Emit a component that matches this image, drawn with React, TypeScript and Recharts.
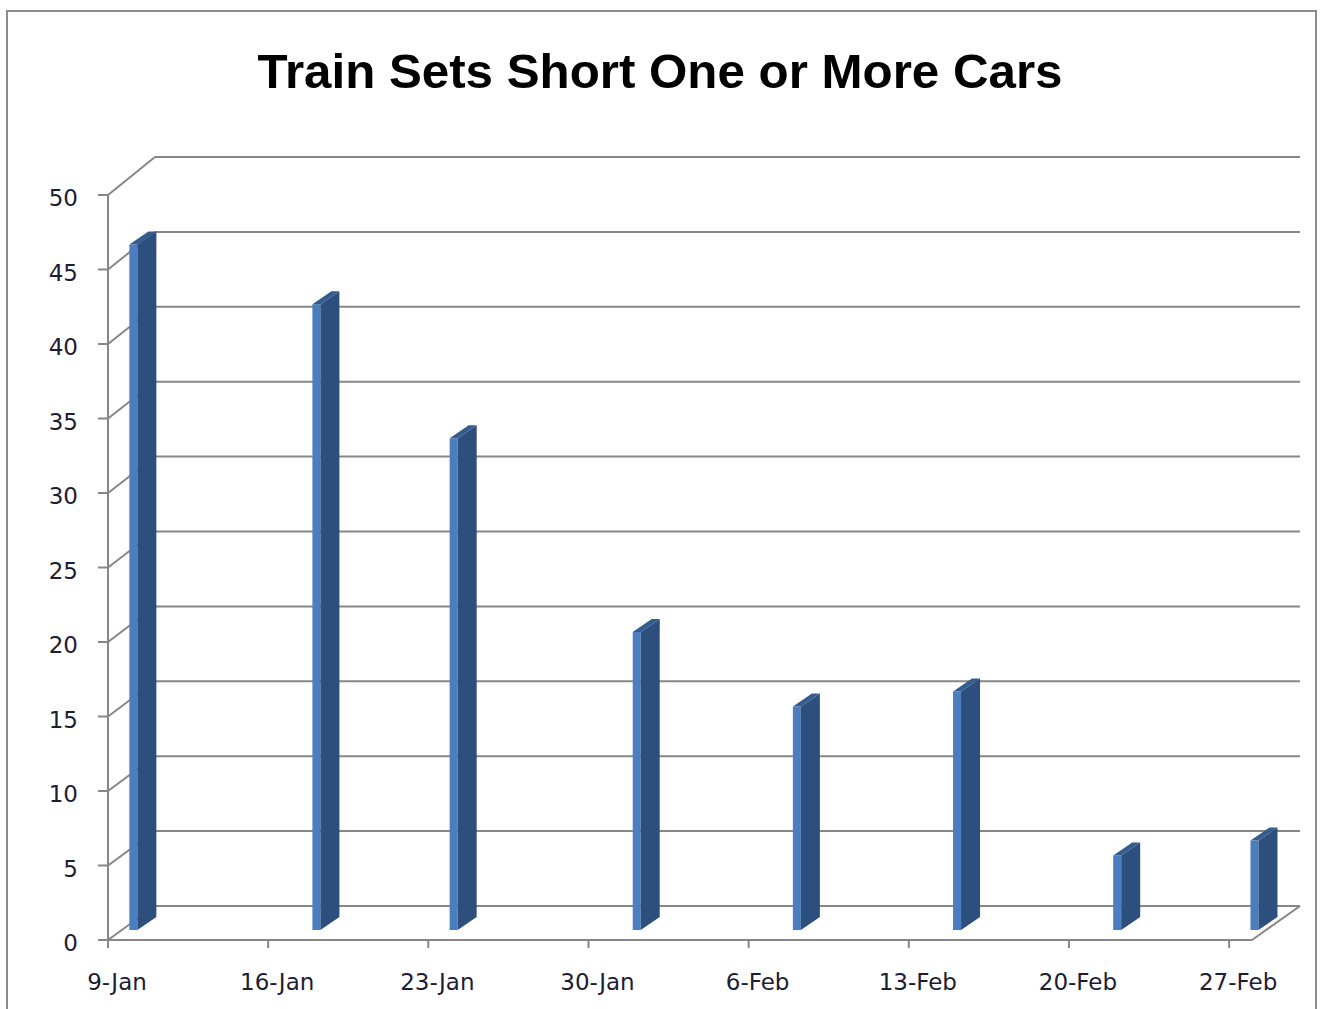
import { BarChart, Bar, XAxis, YAxis, CartesianGrid } from 'recharts';

// weekly axis labels and the dates the counts were taken
const tickLabels = ['9-Jan', '16-Jan', '23-Jan', '30-Jan', '6-Feb', '13-Feb', '20-Feb', '27-Feb'];
const barDates = ['9-Jan', '17-Jan', '23-Jan', '31-Jan', '7-Feb', '14-Feb', '21-Feb', '27-Feb'];
const barValues = [46, 42, 33, 20, 15, 16, 5, 6];
const yTicks = [0, 5, 10, 15, 20, 25, 30, 35, 40, 45, 50];

const MONTH_START: Record<string, number> = { Jan: 0, Feb: 31, Mar: 59 };
const dayOfYear = (label: string) => {
  const [d, m] = label.split('-');
  return MONTH_START[m] + Number(d);
};
const dayOffset = (label: string) => dayOfYear(label) - dayOfYear(tickLabels[0]);

const data = barDates.map((date, i) => ({ day: dayOffset(date), value: barValues[i] }));
const xTicks = tickLabels.map(dayOffset);

const W = 1320;
const H = 1009;
const M = { top: 195, right: 68, bottom: 0, left: 0 };
const X_AXIS_H = 69;
const Y_AXIS_W = 108;
const PLOT_BOTTOM = H - M.bottom - X_AXIS_H;
const PLOT_H = PLOT_BOTTOM - M.top;

// depth of the 3D box (front plane -> back wall)
const DEPTH_X = 47;
const depthY = (y: number) => 34 + ((PLOT_BOTTOM - y) / PLOT_H) * 4;

const GRID = '#878787';
const LIGHT = '#4A7EBF';
const DARK = '#2D4F7D';
const TOP = '#355C8F';
const LABEL = '#1d1d33';

function GridLine(p: any) {
  const dy = depthY(p.y1);
  const bx1 = p.x1 + DEPTH_X;
  const bx2 = p.x2 + DEPTH_X + 1;
  const by = p.y1 - dy;
  const isFloor = Math.abs(p.y1 - PLOT_BOTTOM) < 1;
  return (
    <g key={p.key}>
      <line x1={p.x1} y1={p.y1} x2={bx1} y2={by} stroke={GRID} strokeWidth={2} />
      <line x1={bx1} y1={by} x2={bx2} y2={by} stroke={GRID} strokeWidth={2} />
      {isFloor && <line x1={p.x2} y1={p.y1} x2={bx2} y2={by} stroke={GRID} strokeWidth={2} />}
    </g>
  );
}

function Column3D(props: any) {
  const { x, y, height } = props;
  if (height == null || height <= 0) return null;
  const w = 8;
  const dx = 19;
  const dy = 13;
  const fx = x + 25;
  const top = y - 10;
  const bottom = y + height - 10;
  return (
    <g>
      <rect x={fx} y={top} width={w} height={bottom - top} fill={LIGHT} />
      <polygon
        points={`${fx + w},${top} ${fx + w + dx},${top - dy} ${fx + w + dx},${bottom - dy} ${fx + w},${bottom}`}
        fill={DARK}
      />
      <polygon
        points={`${fx},${top} ${fx + w},${top} ${fx + w + dx},${top - dy} ${fx + dx},${top - dy}`}
        fill={TOP}
      />
    </g>
  );
}

const tickFont = { fontFamily: 'DejaVu Sans', fontSize: 23, fill: LABEL };

export default function App() {
  return (
    <div style={{ position: 'absolute', left: 0, top: 0, width: W, height: H, background: '#fff', overflow: 'hidden' }}>
      <div
        style={{
          position: 'absolute',
          left: 6,
          top: 10,
          width: 1311,
          height: 1020,
          border: '2px solid #8c8c8c',
          boxSizing: 'border-box',
        }}
      />
      <svg style={{ position: 'absolute', left: 0, top: 0 }} width={W} height={120}>
        <text
          x={660}
          y={88}
          textAnchor="middle"
          fontFamily="Liberation Sans"
          fontWeight="bold"
          fontSize={48}
          fill="#000"
          textLength={805}
          lengthAdjust="spacingAndGlyphs"
        >
          Train Sets Short One or More Cars
        </text>
      </svg>
      <div style={{ position: 'absolute', left: 0, top: 0 }}>
        <BarChart width={W} height={H} data={data} margin={M}>
          <CartesianGrid vertical={false} horizontal={GridLine} />
          <XAxis
            dataKey="day"
            type="number"
            domain={[0, 50]}
            ticks={xTicks}
            interval={0}
            height={X_AXIS_H}
            tickFormatter={(d: number) => tickLabels[xTicks.indexOf(d)] ?? ''}
            axisLine={{ stroke: GRID, strokeWidth: 2 }}
            tickLine={{ stroke: GRID, strokeWidth: 2 }}
            tickSize={8}
            tickMargin={26}
            tick={{ ...tickFont, dx: 9 }}
          />
          <YAxis
            type="number"
            domain={[0, 50]}
            ticks={yTicks}
            interval={0}
            width={Y_AXIS_W}
            axisLine={{ stroke: GRID, strokeWidth: 2 }}
            tickLine={{ stroke: GRID, strokeWidth: 2 }}
            tickSize={10}
            tickMargin={20}
            tick={{ ...tickFont, dy: 3 }}
          />
          <Bar dataKey="value" barSize={8} shape={Column3D} isAnimationActive={false} />
        </BarChart>
      </div>
    </div>
  );
}
